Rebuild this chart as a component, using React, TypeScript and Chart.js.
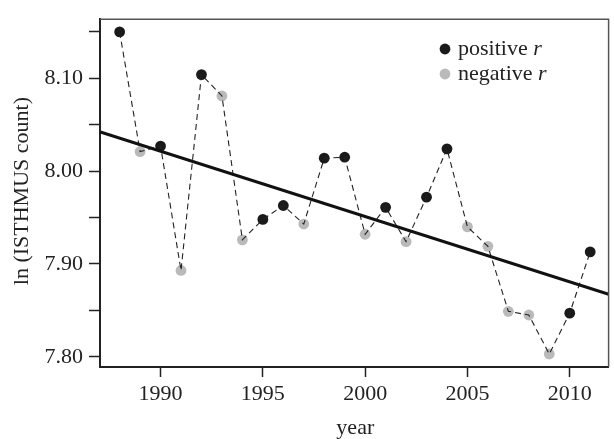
import React, { useEffect, useRef } from 'react';
import { Chart, registerables } from 'chart.js';

Chart.register(...registerables);

// ---- data ----
const years = [1988, 1989, 1990, 1991, 1992, 1993, 1994, 1995, 1996, 1997, 1998, 1999, 2000, 2001, 2002, 2003, 2004, 2005, 2006, 2007, 2008, 2009, 2010, 2011];
const lnCount = [8.150, 8.021, 8.027, 7.893, 8.104, 8.081, 7.926, 7.948, 7.963, 7.943, 8.014, 8.015, 7.932, 7.961, 7.924, 7.972, 8.024, 7.940, 7.919, 7.849, 7.845, 7.803, 7.847, 7.913];
const rSign = ['+', '-', '+', '-', '+', '-', '-', '+', '+', '-', '+', '+', '-', '+', '-', '+', '+', '-', '-', '-', '-', '-', '+', '+'];
const trendYears = [1987, 2012];
const trendValues = [8.0426, 7.8667];
const xTicks = [1990, 1995, 2000, 2005, 2010];
const yTicks = [7.8, 7.85, 7.9, 7.95, 8.0, 8.05, 8.1, 8.15];
const yLabelled = [7.8, 7.9, 8.0, 8.1];
const legendLabels = ['positive', 'negative'];
const xTitle = 'year';
const yTitle = 'ln (ISTHMUS count)';

const X_MIN = 1987.04;
const X_MAX = 2011.9;
const Y_MIN = 7.789;
const Y_MAX = 8.1637;

const FONT = '"Liberation Serif", "Times New Roman", serif';
const INK = '#222222';
const BLACK_DOT = '#1a1a1a';
const GREY_DOT = '#bababa';

const framePlugin = {
  id: 'framePlugin',
  afterDraw(chart: any) {
    const { ctx, chartArea } = chart;
    const { left, right, top, bottom } = chartArea;
    ctx.save();
    // top and right frame
    ctx.strokeStyle = '#555555';
    ctx.lineWidth = 1.5;
    ctx.beginPath();
    ctx.moveTo(left, top);
    ctx.lineTo(right, top);
    ctx.lineTo(right, bottom);
    ctx.stroke();

    // legend
    const colors = [BLACK_DOT, GREY_DOT];
    const dotX = 445;
    const dotYs = [49, 74];
    const textX = 458;
    const baselines = [55, 80];
    ctx.textBaseline = 'alphabetic';
    ctx.textAlign = 'left';
    legendLabels.forEach((lab, i) => {
      ctx.fillStyle = colors[i];
      ctx.beginPath();
      ctx.arc(dotX, dotYs[i], 5.4, 0, Math.PI * 2);
      ctx.fill();
      ctx.fillStyle = INK;
      ctx.font = `22px ${FONT}`;
      const t = lab + ' ';
      ctx.fillText(t, textX, baselines[i]);
      const w = ctx.measureText(t).width;
      ctx.font = `italic 22px ${FONT}`;
      ctx.fillText('r', textX + w, baselines[i]);
    });

    // axis titles
    ctx.fillStyle = INK;
    ctx.font = `22px ${FONT}`;
    ctx.textAlign = 'center';
    ctx.textBaseline = 'alphabetic';
    ctx.fillText(xTitle, (left + right) / 2 + 1, 433.5);

    ctx.translate(27.5, (top + bottom) / 2 - 2);
    ctx.rotate(-Math.PI / 2);
    ctx.fillText(yTitle, 0, 0);
    ctx.restore();
  },
};

export default function App() {
  const ref = useRef<HTMLCanvasElement>(null);

  useEffect(() => {
    const canvas = ref.current;
    if (!canvas) return;
    const series = years.map((x, i) => ({ x, y: lnCount[i] }));
    const pos = years.map((x, i) => ({ x, y: lnCount[i], s: rSign[i] })).filter((p) => p.s === '+').map((p) => ({ x: p.x, y: p.y }));
    const neg = years.map((x, i) => ({ x, y: lnCount[i], s: rSign[i] })).filter((p) => p.s === '-').map((p) => ({ x: p.x, y: p.y }));
    const trend = trendYears.map((x, i) => ({ x, y: trendValues[i] }));

    const chart = new Chart(canvas, {
      type: 'scatter',
      data: {
        datasets: [
          { label: 'trend', data: trend, showLine: true, borderColor: '#111111', borderWidth: 3, pointRadius: 0, order: 0, clip: 0 } as any,
          { label: 'series', data: series, showLine: true, borderColor: INK, borderWidth: 1.1, borderDash: [6, 4], pointRadius: 0, order: 1 } as any,
          { label: 'positive r', data: pos, pointRadius: 5.4, backgroundColor: BLACK_DOT, borderWidth: 0, order: 2 } as any,
          { label: 'negative r', data: neg, pointRadius: 5.4, backgroundColor: GREY_DOT, borderWidth: 0, order: 2 } as any,
        ],
      },
      options: {
        animation: false,
        responsive: false,
        devicePixelRatio: 1,
        events: [],
        layout: { padding: { top: 14, right: 1, bottom: 0, left: 0 } },
        plugins: { legend: { display: false }, tooltip: { enabled: false }, title: { display: false } },
        scales: {
          x: {
            type: 'linear',
            min: X_MIN,
            max: X_MAX,
            afterFit: (s: any) => { s.height = 72; },
            afterBuildTicks: (s: any) => { s.ticks = xTicks.map((v) => ({ value: v })); },
            grid: { display: true, drawOnChartArea: false, drawTicks: true, tickLength: 10, tickWidth: 1.5, tickColor: INK },
            border: { display: true, color: INK, width: 2 },
            ticks: { font: { family: FONT, size: 22 }, color: INK, padding: 4, maxRotation: 0, autoSkip: false, callback: (v: any) => String(v) },
          },
          y: {
            type: 'linear',
            min: Y_MIN,
            max: Y_MAX,
            afterFit: (s: any) => { s.width = 100; },
            afterBuildTicks: (s: any) => { s.ticks = yTicks.map((v) => ({ value: v })); },
            grid: { display: true, drawOnChartArea: false, drawTicks: true, tickLength: 11, tickWidth: 1.5, tickColor: INK },
            border: { display: true, color: INK, width: 2 },
            ticks: {
              font: { family: FONT, size: 22 },
              color: INK,
              padding: 6,
              autoSkip: false,
              callback: (v: any) => (yLabelled.some((l) => Math.abs(l - Number(v)) < 1e-6) ? Number(v).toFixed(2) : ''),
            },
          },
        },
      },
      plugins: [framePlugin],
    } as any);
    return () => chart.destroy();
  }, []);

  return (
    <div style={{ position: 'absolute', left: 0, top: 0, width: 614, height: 439, background: '#ffffff' }}>
      <canvas ref={ref} width={614} height={439} style={{ display: 'block', width: 614, height: 439 }} />
    </div>
  );
}
